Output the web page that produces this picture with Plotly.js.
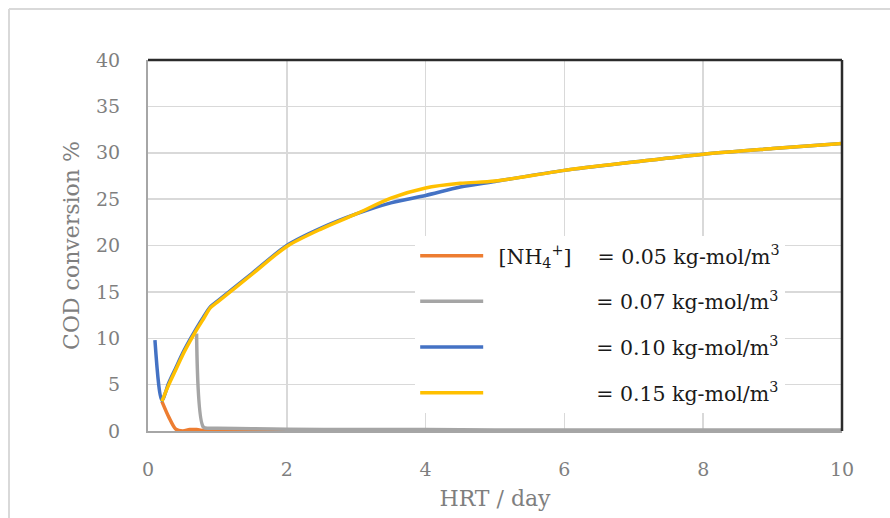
<!DOCTYPE html>
<html>
<head>
<meta charset="utf-8">
<script src="https://cdn.plot.ly/plotly-3.0.1.min.js"></script>
<style>html,body{margin:0;padding:0;background:#fff;}#chart{width:890px;height:518px;}</style>
</head>
<body>
<div id="chart"></div>
<script>
// HRT / day
const hrt005 = [0.2, 0.3, 0.4, 0.5, 0.6, 0.7, 0.8, 0.9, 1, 1.5, 2, 3, 4, 5, 6, 7, 8, 9, 10];
const cod005 = [3.2, 1.5, 0.2, 0.0, 0.15, 0.15, 0.05, 0, 0, 0, 0, 0, 0, 0, 0, 0, 0, 0, 0];

const hrt007 = [0.7, 0.8, 0.9, 1, 1.5, 2, 3, 4, 5, 6, 7, 8, 9, 10];
const cod007 = [10.5, 0.4, 0.3, 0.3, 0.25, 0.2, 0.15, 0.15, 0.1, 0.1, 0.1, 0.1, 0.1, 0.1];

const hrt010 = [0.1, 0.2, 0.3, 0.4, 0.5, 0.6, 0.7, 0.8, 0.9, 1, 1.5, 2, 2.5, 3, 3.5, 4, 4.5, 5, 6, 7, 8, 9, 10];
const cod010 = [9.8, 3.3, 5.2, 6.8, 8.4, 9.8, 11.1, 12.3, 13.4, 14.0, 17.0, 20.0, 21.9, 23.4, 24.6, 25.4, 26.3, 26.9, 28.1, 29.0, 29.85, 30.45, 31.0];

const hrt015 = [0.2, 0.3, 0.4, 0.5, 0.6, 0.7, 0.8, 0.9, 1, 1.5, 2, 2.5, 3, 3.5, 4, 4.5, 5, 6, 7, 8, 9, 10];
const cod015 = [3.2, 5.0, 6.6, 8.2, 9.6, 10.9, 12.1, 13.3, 13.9, 16.9, 19.9, 21.8, 23.4, 25.1, 26.2, 26.7, 26.95, 28.1, 29.0, 29.85, 30.45, 31.0];

const seriesNames = [
  "\u2002[NH<sub>4</sub><sup>+</sup>]\u00A0\u00A0\u00A0\u00A0= 0.05 kg-mol/m<sup>3</sup>",
  "\u2002" + "\u00A0".repeat(15) + "= 0.07 kg-mol/m<sup>3</sup>",
  "\u2002" + "\u00A0".repeat(15) + "= 0.10 kg-mol/m<sup>3</sup>",
  "\u2002" + "\u00A0".repeat(15) + "= 0.15 kg-mol/m<sup>3</sup>"
];
const seriesColors = ["#ED7D31", "#A5A5A5", "#4472C4", "#FFC000"];

const xs = [hrt005, hrt007, hrt010, hrt015];
const ys = [cod005, cod007, cod010, cod015];

const traces = xs.map((x, i) => ({
  type: "scatter",
  mode: "lines",
  x: x,
  y: ys[i],
  name: seriesNames[i],
  legendgroup: "g" + i,
  line: {color: seriesColors[i], width: 3.5, shape: "spline", smoothing: 0.8},
  hoverinfo: "skip"
}));

const serif = "DejaVu Serif, Liberation Serif, serif";

const layout = {
  width: 890,
  height: 518,
  margin: {l: 148, r: 48, t: 60, b: 87},
  paper_bgcolor: "#ffffff",
  plot_bgcolor: "#ffffff",
  showlegend: true,
  legend: {
    x: 0.385, y: 0.526, xanchor: "left", yanchor: "top",
    bgcolor: "#ffffff",
    borderwidth: 0,
    font: {family: serif, size: 20.5, color: "#1a1a1a"},
    tracegroupgap: 16,
    itemwidth: 63
  },
  xaxis: {
    range: [0, 10],
    dtick: 2,
    tick0: 0,
    showgrid: true,
    gridcolor: "#d9d9d9",
    gridwidth: 1.5,
    zeroline: false,
    showline: true,
    linecolor: "#a6a6a6",
    linewidth: 2,
    ticks: "",
    ticklabelstandoff: 20,
    tickfont: {family: serif, size: 19, color: "#7f7f7f"},
    title: {text: "HRT / day", font: {family: serif, size: 22, color: "#7f7f7f"}, standoff: 12},
    automargin: false,
    fixedrange: true
  },
  yaxis: {
    range: [0, 40],
    dtick: 5,
    tick0: 0,
    showgrid: true,
    gridcolor: "#d9d9d9",
    gridwidth: 1.5,
    zeroline: false,
    showline: true,
    linecolor: "#a6a6a6",
    linewidth: 2,
    ticks: "",
    ticklabelstandoff: 22,
    tickfont: {family: serif, size: 19, color: "#7f7f7f"},
    title: {text: "COD conversion %", font: {family: serif, size: 22, color: "#7f7f7f"}, standoff: 10},
    automargin: false,
    fixedrange: true
  },
  shapes: [
    {type: "line", xref: "paper", yref: "paper", x0: 0, x1: 1, y0: 1, y1: 1, line: {color: "#2b2b2b", width: 2.5}},
    {type: "line", xref: "paper", yref: "paper", x0: 1, x1: 1, y0: 0, y1: 1, line: {color: "#2b2b2b", width: 2.5}},
    {type: "line", xref: "paper", yref: "paper", x0: -0.2003, x1: 1.2, y0: 1.1375, y1: 1.1375, line: {color: "#d9d9d9", width: 2}},
    {type: "line", xref: "paper", yref: "paper", x0: -0.2003, x1: -0.2003, y0: -0.3, y1: 1.1375, line: {color: "#d9d9d9", width: 2}}
  ]
};

Plotly.newPlot("chart", traces, layout, {displayModeBar: false, staticPlot: true});
</script>
</body>
</html>
